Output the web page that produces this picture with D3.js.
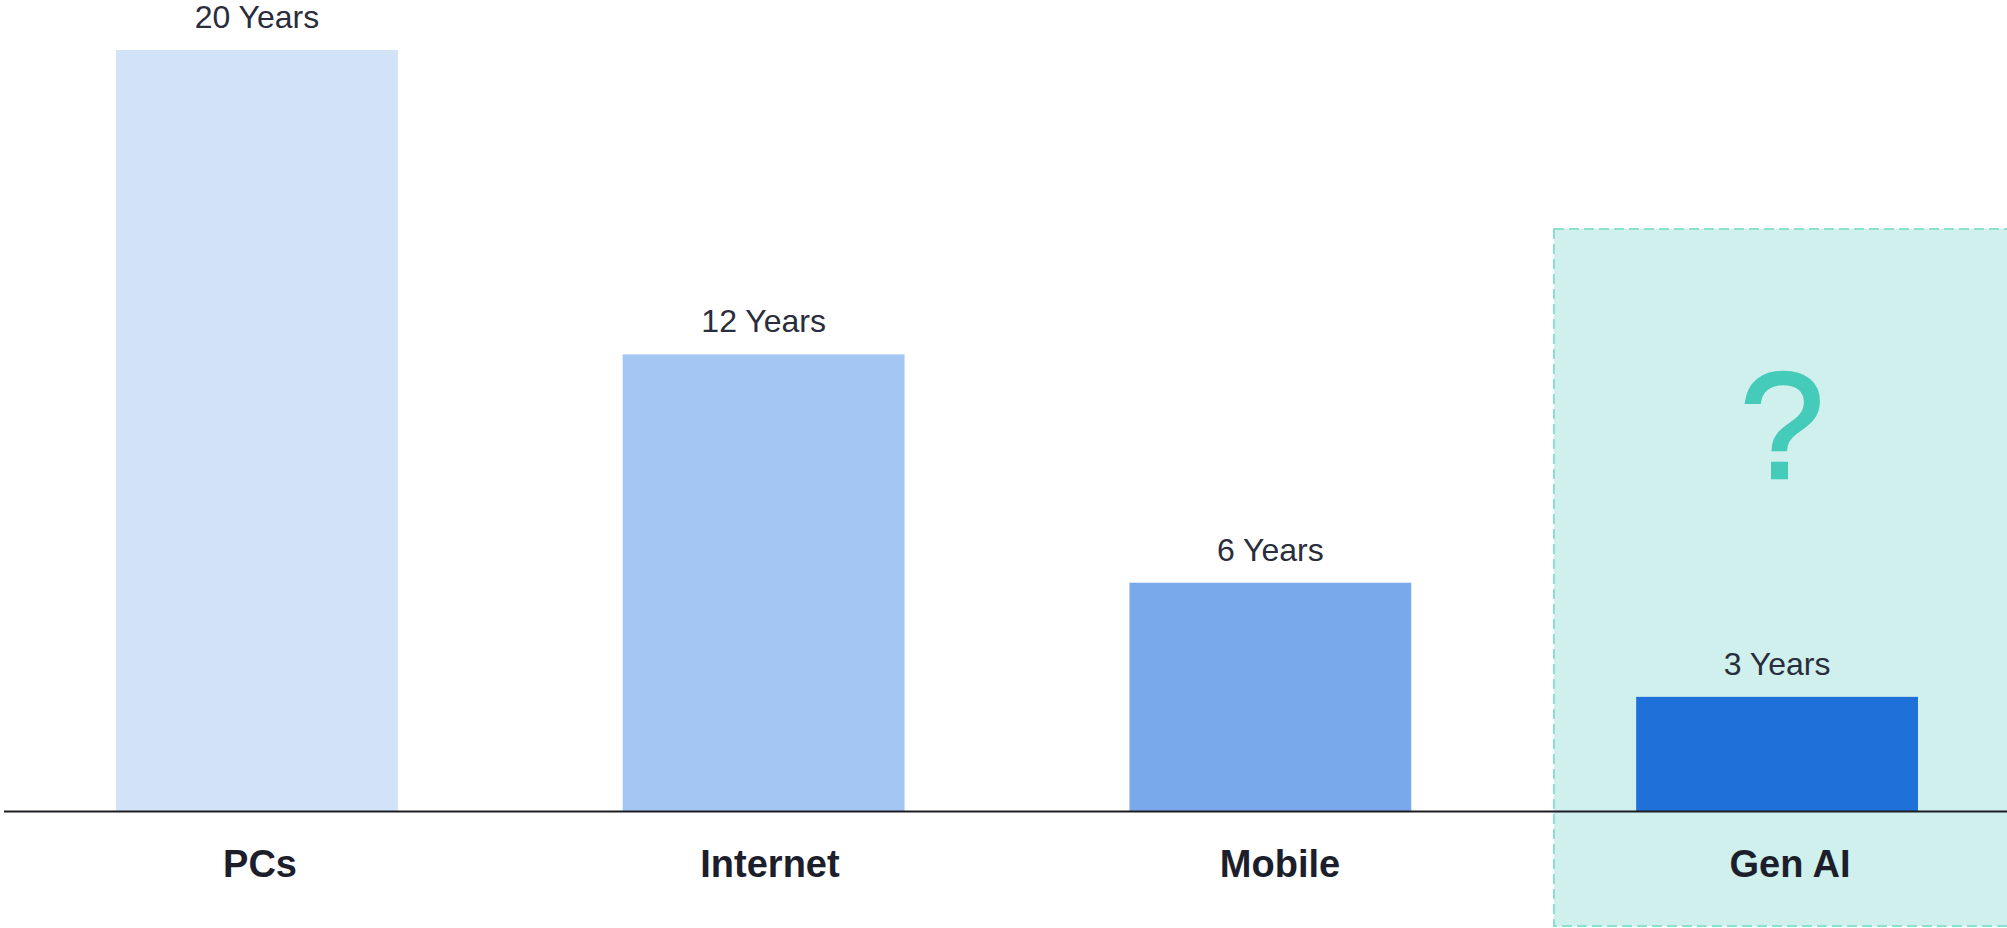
<!DOCTYPE html>
<html>
<head>
<meta charset="utf-8">
<script src="https://cdn.jsdelivr.net/npm/d3@7"></script>
<style>
  html, body { margin: 0; padding: 0; background: #fff; }
  svg { display: block; }
</style>
</head>
<body>
<div id="chart"></div>
<script>
const categories = ['PCs', 'Internet', 'Mobile', 'Gen AI']
const years = [20, 12, 6, 3]
const valueLabels = ['20 Years', '12 Years', '6 Years', '3 Years']
const barColors = ['#d2e2f7', '#a4c6f2', '#79a9ea', '#1f70d8']
const highlighted = 'Gen AI'

const svgWidth = 2007
const svgHeight = 928
const baseY = 811
const topY = 50

const svg = d3.select('#chart').append('svg')
  .attr('width', svgWidth)
  .attr('height', svgHeight)

const x = d3.scaleBand()
  .domain(categories)
  .range([116, 1918])
  .paddingInner(0.4438)
  .paddingOuter(0)

// category labels sit on a slightly wider spacing than the bars
const xLabel = d3.scalePoint()
  .domain(categories)
  .range([260, 1790])

const y = d3.scaleLinear()
  .domain([0, d3.max(years)])
  .range([baseY, topY])

const font = '"Liberation Sans", Arial, Helvetica, sans-serif'

// highlight box behind the last category
svg.append('rect')
  .attr('x', 1554)
  .attr('y', 229)
  .attr('width', svgWidth - 1554 + 10)
  .attr('height', svgHeight - 229 - 2)
  .attr('fill', '#cff0ec')
  .attr('stroke', '#8ce0d2')
  .attr('stroke-width', 2)
  .attr('stroke-dasharray', '10,5')

svg.append('text')
  .attr('x', x(highlighted) + x.bandwidth() / 2 + 5)
  .attr('y', 478)
  .attr('text-anchor', 'middle')
  .attr('font-family', font)
  .attr('font-size', 152)
  .attr('fill', '#45cbb9')
  .attr('stroke', '#45cbb9')
  .attr('stroke-width', 2.5)
  .text('?')

svg.selectAll('.bar')
  .data(categories)
  .enter().append('rect')
  .attr('class', 'bar')
  .attr('x', d => x(d))
  .attr('y', (d, i) => y(years[i]))
  .attr('width', x.bandwidth())
  .attr('height', (d, i) => baseY - y(years[i]))
  .attr('fill', (d, i) => barColors[i])

svg.selectAll('.value')
  .data(categories)
  .enter().append('text')
  .attr('class', 'value')
  .attr('x', d => x(d) + x.bandwidth() / 2)
  .attr('y', (d, i) => y(years[i]) - 22)
  .attr('text-anchor', 'middle')
  .attr('font-family', font)
  .attr('font-size', 32)
  .attr('fill', '#2a2d3b')
  .text((d, i) => valueLabels[i])

svg.append('line')
  .attr('x1', 4)
  .attr('x2', svgWidth)
  .attr('y1', baseY + 0.5)
  .attr('y2', baseY + 0.5)
  .attr('stroke', '#1c1c22')
  .attr('stroke-width', 2)

svg.selectAll('.cat')
  .data(categories)
  .enter().append('text')
  .attr('class', 'cat')
  .attr('x', d => xLabel(d))
  .attr('y', 877)
  .attr('text-anchor', 'middle')
  .attr('font-family', font)
  .attr('font-weight', 'bold')
  .attr('font-size', 38)
  .attr('fill', '#1c1e2b')
  .text(d => d)
</script>
</body>
</html>
